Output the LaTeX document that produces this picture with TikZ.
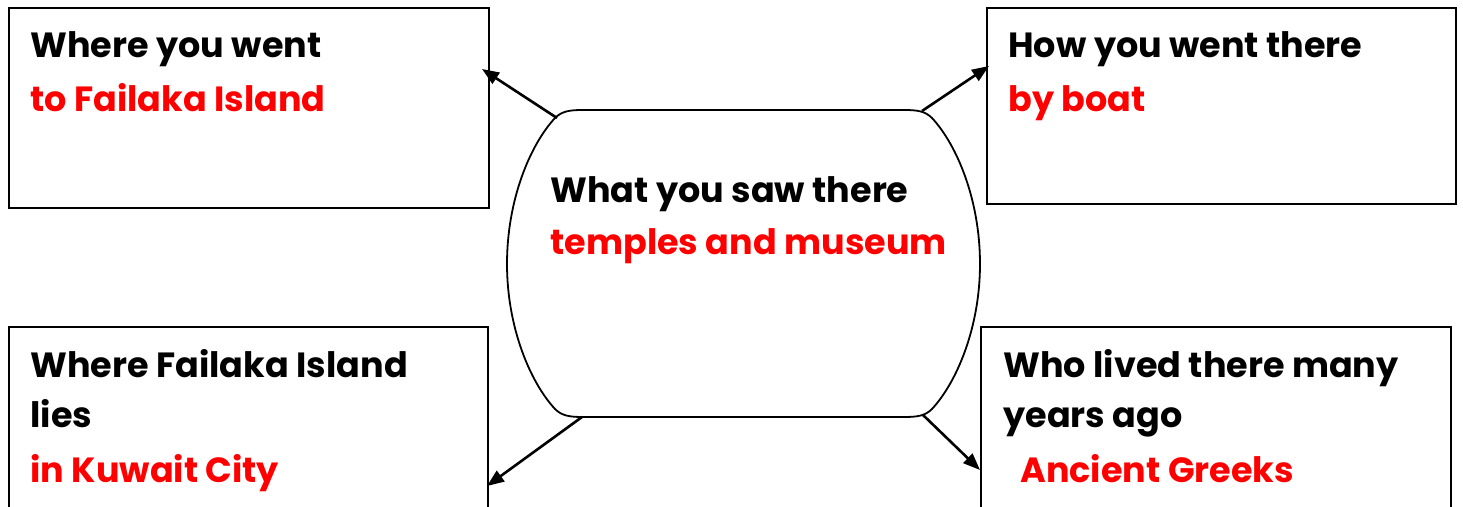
\documentclass[tikz,border=0pt]{standalone}
\usepackage{fontspec}
\setmainfont{Poppins}
\usepackage{xcolor}
\usepackage{tikz}
\usetikzlibrary{arrows.meta,positioning,calc}

\definecolor{answerred}{RGB}{255,0,0}

\begin{document}
\begin{tikzpicture}[x=0.5pt,y=-0.5pt,
  box/.style={draw,line width=1pt,inner sep=0pt,anchor=north west},
  qtext/.style={anchor=base west,inner sep=0pt,
    font=\fontsize{17.5}{25}\selectfont\bfseries},
  atext/.style={qtext,text=answerred},
  arr/.style={line width=1.3pt,-{Triangle[length=8.5pt,width=6.5pt]}}]
\useasboundingbox (0,0) rectangle (1463,507);
\clip (0,0) rectangle (1463,507);
% bottom boxes run past the lower edge of the page
\node[box,minimum width=240pt,minimum height=100pt] (went) at (8,7) {};
\node[box,minimum width=234.5pt,minimum height=98pt] (how) at (986,7) {};
\node[box,minimum width=239.5pt,minimum height=102pt] (lies) at (8,326) {};
\node[box,minimum width=235pt,minimum height=102pt] (lived) at (980,326) {};

\node[qtext] (wentq) at ($(went.north west)+(22,51)$) {Where you went};
\node[atext] (wenta) at ($(went.north west)+(22,105)$) {to Failaka Island};
\node[qtext] (howq) at ($(how.north west)+(22,51)$) {How you went there};
\node[atext] (howa) at ($(how.north west)+(22,105)$) {by boat};
\node[qtext] (liesq) at ($(lies.north west)+(22,52)$) {Where Failaka Island};
\node[qtext] (liesq2) at ($(lies.north west)+(22,102)$) {lies};
\node[atext] (liesa) at ($(lies.north west)+(22,157)$) {in Kuwait City};
\node[qtext] (livedq) at ($(lived.north west)+(23,52)$) {Who lived there many};
\node[qtext] (livedq2) at ($(lived.north west)+(23,102)$) {years ago};
\node[atext] (liveda) at ($(lived.north west)+(40,157)$) {Ancient Greeks};

\node[qtext] (sawq) at (550,203) {What you saw there};
\node[atext] (sawa) at (550,255) {temples and museum};
\draw[line width=0.9pt] (583,110) -- (904,110)
  .. controls (917,110) and (925,111) .. (932,118)
  .. controls (957,145) and (980,200) .. (980,264)
  .. controls (980,327) and (957,382) .. (932,409)
  .. controls (925,416) and (917,417) .. (904,417) -- (583,417)
  .. controls (570,417) and (562,416) .. (555,409)
  .. controls (530,382) and (507,327) .. (507,264)
  .. controls (507,200) and (530,145) .. (555,118)
  .. controls (562,111) and (570,110) .. cycle;

\coordinate (sawnw) at (557,118);
\coordinate (sawne) at (922,111);
\coordinate (sawsw) at (582,417);
\coordinate (sawse) at (923,415);
\coordinate (wentin) at (482,69);
\coordinate (howin) at (989,66);
\coordinate (liesin) at (487,486);
\coordinate (livedin) at (980,470);
\draw[arr] (sawnw) -- (wentin);
\draw[arr] (sawne) -- (howin);
\draw[arr] (sawsw) -- (liesin);
\draw[arr] (sawse) -- (livedin);
\end{tikzpicture}
\end{document}
